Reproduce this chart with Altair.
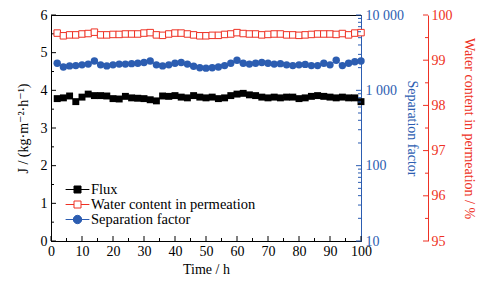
import altair as alt
import pandas as pd

# ---------------- data ----------------
time_h = [2, 4, 6, 8, 10, 12, 14, 16, 18, 20, 22, 24, 26, 28, 30, 32, 34, 36, 38, 40,
          42, 44, 46, 48, 50, 52, 54, 56, 58, 60, 62, 64, 66, 68, 70, 72, 74, 76, 78, 80,
          82, 84, 86, 88, 90, 92, 94, 96, 98, 100]
flux = [3.78, 3.80, 3.85, 3.70, 3.82, 3.90, 3.86, 3.86, 3.85, 3.78, 3.77, 3.84, 3.80, 3.79, 3.78,
        3.75, 3.72, 3.85, 3.84, 3.86, 3.82, 3.80, 3.86, 3.82, 3.80, 3.82, 3.78, 3.80, 3.86, 3.90,
        3.92, 3.88, 3.86, 3.82, 3.80, 3.82, 3.80, 3.82, 3.82, 3.78, 3.80, 3.84, 3.86, 3.84, 3.82,
        3.80, 3.82, 3.80, 3.80, 3.70]
water = [99.60, 99.54, 99.56, 99.56, 99.58, 99.59, 99.62, 99.56, 99.56, 99.57, 99.57, 99.58, 99.58,
         99.58, 99.60, 99.61, 99.56, 99.55, 99.58, 99.60, 99.60, 99.58, 99.56, 99.54, 99.54, 99.55,
         99.55, 99.57, 99.58, 99.61, 99.59, 99.58, 99.58, 99.56, 99.57, 99.58, 99.58, 99.56, 99.56,
         99.55, 99.56, 99.57, 99.58, 99.58, 99.58, 99.57, 99.59, 99.56, 99.60, 99.61]
sep = [2290, 2040, 2110, 2130, 2180, 2230, 2450, 2180, 2110, 2180, 2230, 2230, 2260, 2290, 2340,
       2450, 2180, 2110, 2180, 2290, 2340, 2230, 2085, 1990, 1970, 1990, 2040, 2130, 2290, 2510,
       2290, 2230, 2290, 2340, 2290, 2230, 2260, 2180, 2130, 2180, 2210, 2130, 2130, 2290, 2180,
       2510, 2130, 2290, 2395, 2450]

series_names = ["Flux", "Water content in permeation", "Separation factor"]

x_major = [0, 10, 20, 30, 40, 50, 60, 70, 80, 90, 100]
x_minor = [5, 15, 25, 35, 45, 55, 65, 75, 85, 95]
flux_major = [0, 1, 2, 3, 4, 5, 6]
flux_minor = [0.5, 1.5, 2.5, 3.5, 4.5, 5.5]
sep_major = [10, 100, 1000, 10000]
sep_minor = [20, 30, 40, 50, 60, 70, 80, 90, 200, 300, 400, 500, 600, 700, 800, 900,
             2000, 3000, 4000, 5000, 6000, 7000, 8000, 9000]
water_major = [95, 96, 97, 98, 99, 100]
water_minor = [95.5, 96.5, 97.5, 98.5, 99.5]

# ---------------- style ----------------
W, H = 310, 226
RED_OFFSET = 67
FONT = "Liberation Serif, Times New Roman, DejaVu Serif, serif"
BLACK = "#000000"
RED = "#ee3124"
BLUE = "#2c5db1"

df = pd.DataFrame({"time": time_h, "flux": flux, "water": water, "sep": sep})

xscale = alt.Scale(domain=[0, 100], nice=False, zero=False)
xaxis = alt.Axis(values=x_major, title="Time / h", ticks=False, grid=False,
                 domainColor=BLACK, labelColor=BLACK, labelPadding=3, titlePadding=4,
                 labelFlush=False)

fscale = alt.Scale(domain=[0, 6], nice=False, zero=False)
faxis = alt.Axis(values=flux_major, title="J / (kg·m⁻²·h⁻¹)", ticks=False, grid=False,
                 domainColor=BLACK, labelColor=BLACK, labelPadding=4, titlePadding=10,
                 labelFlush=False)

wscale = alt.Scale(domain=[95, 100], nice=False, zero=False)
waxis = alt.Axis(values=water_major, title="Water content in permeation / %", orient="right",
                 offset=RED_OFFSET, ticks=False, grid=False, domainColor=RED, labelColor=RED,
                 titleColor=RED, labelPadding=3, titlePadding=9, labelFlush=False)

sscale = alt.Scale(type="log", domain=[10, 10000], nice=False)
saxis = alt.Axis(values=sep_major, title="Separation factor", orient="right", ticks=False,
                 grid=False, domainColor=BLUE, labelColor=BLUE, titleColor=BLUE,
                 labelPadding=4, titlePadding=1, labelFlush=False, labelOverlap=False,
                 labelExpr="replace(format(datum.value, ','), ',', ' ')")

X = alt.X("time:Q", scale=xscale, axis=xaxis)
base = alt.Chart(df)


def tick_layer(values, field_scale, field_axis, x1, x2, color):
    return alt.Chart(pd.DataFrame({"v": values})).mark_rule(color=color, strokeWidth=1).encode(
        x=alt.value(x1), x2=alt.value(x2),
        y=alt.Y("v:Q", scale=field_scale, axis=field_axis))


def xtick_layer(values, length):
    return alt.Chart(pd.DataFrame({"t": values})).mark_rule(color=BLACK, strokeWidth=1).encode(
        x=alt.X("t:Q", scale=xscale, axis=xaxis),
        y=alt.value(H), y2=alt.value(H - length))


# legend symbols: line + marker (box of symbolSize 196 -> 14 px, line reaches +-1.7)
paths = [
    "M-1.7,0H1.7M-0.5,-0.5H0.5V0.5H-0.5Z",
    "M-1.7,0H-0.5M0.5,0H1.7M-0.5,-0.5H0.5V0.5H-0.5Z",
    "M-1.7,0H1.7M-0.6,0A0.6,0.6,0,1,1,0.6,0A0.6,0.6,0,1,1,-0.6,0Z",
]
leg = alt.Legend(title=None, orient="none", legendX=19, legendY=167, symbolSize=196,
                 symbolStrokeWidth=1, labelFont=FONT, labelFontSize=14.5, labelColor=BLACK,
                 labelLimit=400, rowPadding=0, labelOffset=6, padding=0)
legend_df = pd.DataFrame({"series": series_names, "time": [None] * 3, "flux": [None] * 3})
legend_layer = alt.Chart(legend_df).mark_point(filled=True, strokeWidth=1, opacity=1).encode(
    x=alt.X("time:Q", scale=xscale, axis=xaxis),
    y=alt.Y("flux:Q", scale=fscale, axis=faxis),
    shape=alt.Shape("series:N", scale=alt.Scale(domain=series_names, range=paths), legend=leg),
    fill=alt.Fill("series:N", scale=alt.Scale(domain=series_names, range=[BLACK, "#ffffff", BLUE]),
                  legend=leg),
    stroke=alt.Stroke("series:N", scale=alt.Scale(domain=series_names, range=[BLACK, RED, BLUE]),
                      legend=leg),
)

flux_line = base.mark_line(color=BLACK, strokeWidth=1).encode(
    X, alt.Y("flux:Q", scale=fscale, axis=faxis))
flux_pts = base.mark_point(shape="square", filled=True, color=BLACK, size=48, opacity=1).encode(
    X, alt.Y("flux:Q", scale=fscale, axis=faxis))

flux_group = alt.layer(
    flux_line, flux_pts,
    tick_layer(flux_major, fscale, faxis, 0, 5, BLACK),
    tick_layer(flux_minor, fscale, faxis, 0, 3, BLACK),
    xtick_layer(x_major, 5), xtick_layer(x_minor, 3),
    legend_layer,
)

water_line = base.mark_line(color=RED, strokeWidth=1).encode(
    X, alt.Y("water:Q", scale=wscale, axis=waxis))
water_pts = base.mark_point(shape="square", filled=False, fill="#ffffff", color=RED, size=42,
                            strokeWidth=1, opacity=1).encode(
    X, alt.Y("water:Q", scale=wscale, axis=waxis))
water_group = alt.layer(
    water_line, water_pts,
    tick_layer(water_major, wscale, waxis, W + RED_OFFSET, W + RED_OFFSET - 5, RED),
    tick_layer(water_minor, wscale, waxis, W + RED_OFFSET, W + RED_OFFSET - 3, RED),
)

sep_line = base.mark_line(color=BLUE, strokeWidth=1).encode(
    X, alt.Y("sep:Q", scale=sscale, axis=saxis))
sep_pts = base.mark_point(shape="circle", filled=True, color=BLUE, size=55, opacity=1).encode(
    X, alt.Y("sep:Q", scale=sscale, axis=saxis))
sep_group = alt.layer(
    sep_line, sep_pts,
    tick_layer(sep_major, sscale, saxis, W, W - 5, BLUE),
    tick_layer(sep_minor, sscale, saxis, W, W - 3, BLUE),
)

chart = (
    alt.layer(flux_group, water_group, sep_group)
    .resolve_scale(y="independent")
    .properties(width=W, height=H,
                padding={"left": 43, "top": 7, "right": 126, "bottom": 42},
                autosize=alt.AutoSizeParams(type="none"))
    .configure_view(stroke=BLACK, strokeWidth=1)
    .configure_axis(labelFont=FONT, titleFont=FONT, labelFontSize=14, titleFontSize=14,
                    titleFontWeight="normal")
    .configure_legend(labelFont=FONT, labelFontSize=14.5, labelLimit=400)
)

chart.save("out.html", embed_options={"renderer": "svg", "actions": False})
